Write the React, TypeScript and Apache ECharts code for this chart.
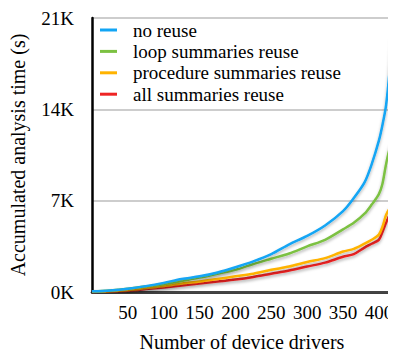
import React, { useEffect, useRef } from "react";
import * as echarts from "echarts";

const drivers = [0, 25, 50, 75, 100, 125, 150, 175, 200, 225, 250, 275, 300, 325, 350, 365, 380, 390, 400, 405, 410, 415, 418];
const noReuse = [0.05, 0.12, 0.25, 0.45, 0.7, 1.0, 1.2, 1.5, 1.9, 2.35, 2.9, 3.65, 4.3, 5.1, 6.2, 7.2, 8.4, 9.8, 11.6, 12.8, 14.3, 17.0, 19.5];
const loopReuse = [0.05, 0.12, 0.25, 0.43, 0.6, 0.85, 1.1, 1.4, 1.7, 2.15, 2.55, 2.95, 3.5, 4.0, 4.8, 5.3, 6.0, 6.7, 7.5, 8.3, 9.8, 11.0, 11.4];
const procReuse = [0, 0.05, 0.15, 0.3, 0.45, 0.65, 0.8, 1.0, 1.2, 1.4, 1.7, 1.95, 2.3, 2.6, 3.1, 3.3, 3.7, 4.0, 4.4, 5.0, 5.9, 6.4, 6.5];
const allReuse = [0, 0.03, 0.1, 0.22, 0.35, 0.5, 0.65, 0.8, 0.95, 1.15, 1.4, 1.65, 1.95, 2.25, 2.7, 2.9, 3.4, 3.7, 4.0, 4.6, 5.3, 5.9, 6.1];
const seriesNames = ["no reuse", "loop summaries reuse", "procedure summaries reuse", "all summaries reuse"];
const seriesData = [noReuse, loopReuse, procReuse, allReuse];
const colors = ["#12a5f4", "#7cc142", "#ffb300", "#ee2424"];

const FONT = "Liberation Serif";

export default function App() {
  const ref = useRef<HTMLDivElement>(null);
  useEffect(() => {
    if (!ref.current) return;
    const chart = echarts.init(ref.current, undefined, { renderer: "svg" });
    const legendRows = seriesNames.map((name, i) => ({
      type: "group",
      x: 0,
      y: i * 21.4,
      children: [
        { type: "rect", shape: { x: 0, y: -1.5, width: 17, height: 3 }, style: { fill: colors[i] } },
        {
          type: "text",
          x: 33,
          y: 0,
          style: {
            text: name,
            fontFamily: FONT,
            fontSize: 19,
            fill: "#000",
            verticalAlign: "middle",
            align: "left",
          },
        },
      ],
    }));
    chart.setOption({
      animation: false,
      textStyle: { fontFamily: FONT, color: "#000" },
      grid: { left: 89, right: 0, top: 18, bottom: 61, containLabel: false },
      legend: { show: false },
      graphic: [{ type: "group", x: 100, y: 30, children: legendRows, z: 20 }],
      xAxis: [
        {
          type: "value",
          min: 0,
          max: 418,
          interval: 50,
          name: "Number of device drivers",
          nameLocation: "middle",
          nameGap: 40,
          nameTextStyle: { fontFamily: FONT, fontSize: 20, color: "#000" },
          axisLine: { show: true, onZero: false, lineStyle: { color: "#000", width: 2.5 } },
          axisTick: { show: false },
          splitLine: { show: false },
          axisLabel: {
            fontFamily: FONT,
            fontSize: 19,
            color: "#000",
            margin: 11,
            formatter: (v: number) => (v === 0 ? "" : String(v)),
          },
        },
        {
          type: "value",
          position: "top",
          min: 0,
          max: 418,
          axisLine: { show: true, lineStyle: { color: "#444", width: 2 } },
          axisTick: { show: false },
          axisLabel: { show: false },
          splitLine: { show: false },
        },
      ],
      yAxis: {
        type: "value",
        min: 0,
        max: 21,
        interval: 7,
        name: "Accumulated analysis time (s)",
        nameLocation: "middle",
        nameGap: 64,
        nameTextStyle: { fontFamily: FONT, fontSize: 20, color: "#000" },
        axisLine: { show: true, lineStyle: { color: "#000", width: 2.5 } },
        axisTick: { show: false },
        axisLabel: {
          fontFamily: FONT,
          fontSize: 19,
          color: "#000",
          margin: 18,
          formatter: (v: number) => `${v}K`,
        },
        splitLine: { show: true, lineStyle: { color: "#bdbdbd", width: 1.5 } },
      },
      series: seriesNames.map((name, i) => ({
        name,
        type: "line",
        xAxisIndex: 0,
        data: drivers.map((d, j) => [d, seriesData[i][j]]),
        showSymbol: false,
        smooth: 0.3,
        color: colors[i],
        lineStyle: {
          width: 2.5,
          color: colors[i],
          shadowColor: "rgba(0,0,0,0.3)",
          shadowBlur: 3,
          shadowOffsetY: 2,
        },
        z: 10 - i,
      })),
    });
    return () => chart.dispose();
  }, []);
  return <div ref={ref} style={{ width: 396, height: 357, margin: -8 }} />;
}
